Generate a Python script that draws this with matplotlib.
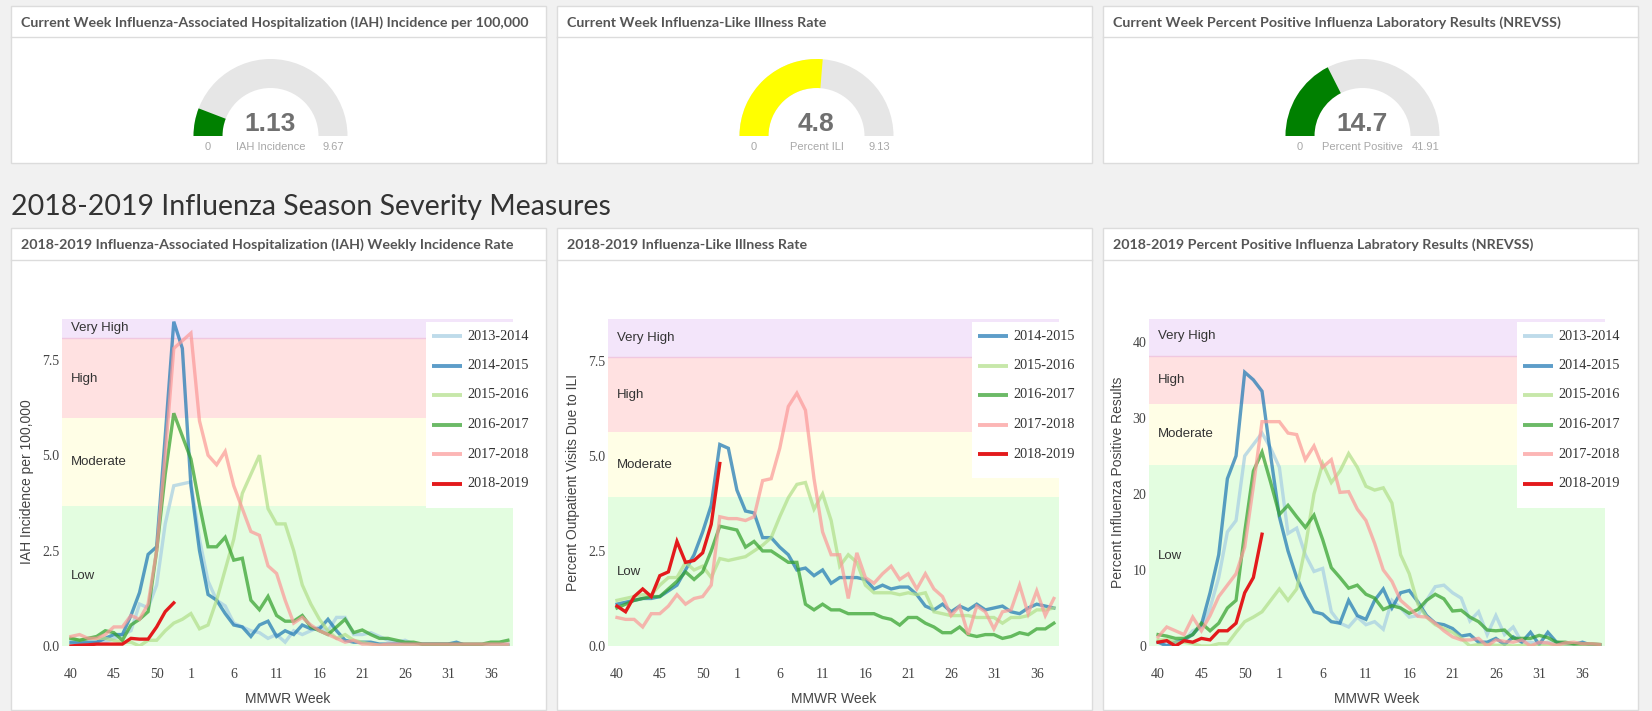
import numpy as np
import matplotlib
matplotlib.use("Agg")
import matplotlib.pyplot as plt
from matplotlib.patches import Rectangle, Wedge

W, H = 1652, 711

# weeks 40..53, 1..38
weeks = list(range(40, 54)) + list(range(1, 39))
tick_weeks = [40, 45, 50, 1, 6, 11, 16, 21, 26, 31, 36]
seasons = ["2013-2014", "2014-2015", "2015-2016", "2016-2017", "2017-2018", "2018-2019"]
colors = ["#a6cee3", "#1f78b4", "#b2df8a", "#33a02c", "#fb9a99", "#e31a1c"]

# current week gauges
gauge_titles = ["Current Week Influenza-Associated Hospitalization (IAH) Incidence per 100,000",
                "Current Week Influenza-Like Illness Rate",
                "Current Week Percent Positive Influenza Laboratory Results (NREVSS)"]
gauge_values = [1.13, 4.8, 14.7]
gauge_max = [9.67, 9.13, 41.91]
gauge_labels = ["IAH Incidence", "Percent ILI", "Percent Positive"]
gauge_colors = ["#008000", "#ffff00", "#008000"]

# severity bands: low, moderate, high, very high (upper limits)
band_names = ["Low", "Moderate", "High", "Very High"]
band_colors = ["#e3fde0", "#fffee6", "#ffe1e1", "#f3e5fa"]
iah_bands = [3.67, 5.98, 8.07, 8.57]
ili_bands = [3.92, 5.62, 7.6, 8.6]
pos_bands = [23.8, 31.8, 38.1, 43.0]
iah_band_label_y = [1.84, 4.83, 7.0, 8.33]
ili_band_label_y = [1.95, 4.77, 6.6, 8.1]
pos_band_label_y = [11.9, 27.9, 35.0, 40.7]

iah = {
    "2013-2014": [0.05, 0.05, 0.05, 0.1, 0.1, 0.2, 0.3, 0.4, 1.1, 1.0, 1.6, 3.2, 4.2, 4.25, 4.3, 2.8, 1.7, 1.2, 1.05, 0.6,
                  0.5, 0.4, 0.35, 0.2, 0.3, 0.1, 0.4, 0.3, 0.4, 0.5, 0.4, 0.75, 0.75, 0.3, 0.3, 0.35, 0.25, 0.15, 0.1, 0.15,
                  0.05, 0.05, 0.05, 0.05, 0.05, 0.05, 0.05, 0.05, 0.05, 0.05, 0.05, 0.05],
    "2014-2015": [0.1, 0.1, 0.1, 0.1, 0.2, 0.3, 0.3, 0.8, 1.4, 2.4, 2.6, 5.5, 8.5, 7.8, 4.2, 2.5, 1.35, 1.2, 0.85, 0.55,
                  0.5, 0.25, 0.55, 0.65, 0.25, 0.4, 0.3, 0.55, 0.45, 0.45, 0.7, 0.4, 0.15, 0.1, 0.1, 0.1, 0.05, 0.05, 0.05, 0.05,
                  0.05, 0.05, 0.05, 0.05, 0.05, 0.1, 0.02, 0.02, 0.02, 0.02, 0.02, 0.02],
    "2015-2016": [0.2, 0.15, 0.2, 0.2, 0.2, 0.15, 0.1, 0.1, 0.0, 0.15, 0.15, 0.4, 0.6, 0.7, 0.85, 0.45, 0.55, 1.2, 2.0, 2.8,
                  4.0, 4.5, 5.0, 3.6, 3.2, 3.2, 2.5, 1.6, 1.1, 0.7, 0.4, 0.2, 0.3, 0.15, 0.1, 0.05, 0.02, 0.02, 0.02, 0.02,
                  0.02, 0.02, 0.02, 0.02, 0.02, 0.02, 0.02, 0.02, 0.02, 0.02, 0.02, 0.02],
    "2016-2017": [0.2, 0.15, 0.2, 0.25, 0.4, 0.35, 0.15, 0.55, 0.7, 0.9, 2.5, 4.5, 6.1, 5.5, 4.9, 3.7, 2.6, 2.6, 2.85, 2.25,
                  2.3, 1.2, 0.95, 1.3, 0.8, 0.65, 0.65, 0.8, 0.5, 0.4, 0.3, 0.5, 0.7, 0.35, 0.42, 0.3, 0.2, 0.2, 0.15, 0.1,
                  0.1, 0.05, 0.05, 0.05, 0.05, 0.05, 0.05, 0.05, 0.05, 0.1, 0.1, 0.15],
    "2017-2018": [0.25, 0.3, 0.2, 0.2, 0.3, 0.5, 0.5, 0.8, 0.7, 1.1, 2.5, 5.0, 7.8, 8.0, 8.2, 5.9, 5.0, 4.75, 5.1, 4.2,
                  3.6, 3.0, 2.9, 2.1, 1.9, 1.2, 0.6, 0.75, 0.55, 0.4, 0.3, 0.2, 0.1, 0.15, 0.05, 0.05, 0.02, 0.05, 0.05, 0.05,
                  0.05, 0.05, 0.05, 0.05, 0.05, 0.05, 0.05, 0.05, 0.05, 0.05, 0.05, 0.05],
    "2018-2019": [0.0, 0.02, 0.03, 0.05, 0.05, 0.05, 0.05, 0.2, 0.18, 0.18, 0.5, 0.9, 1.13],
}

ili = {
    "2014-2015": [1.1, 1.15, 1.2, 1.25, 1.25, 1.3, 1.45, 1.6, 2.0, 2.4, 3.0, 3.7, 5.3, 5.2, 4.1, 3.55, 3.5, 2.85, 2.85, 2.6,
                  2.4, 2.0, 2.05, 1.85, 2.0, 1.65, 1.8, 1.8, 1.8, 1.75, 1.5, 1.6, 1.5, 1.55, 1.55, 1.35, 1.05, 0.95, 1.1, 0.9,
                  1.05, 0.95, 1.1, 0.95, 1.0, 1.05, 0.9, 0.85, 1.0, 1.1, 1.05, 1.0],
    "2015-2016": [1.2, 1.25, 1.3, 1.35, 1.35, 1.6, 1.8, 1.8, 2.2, 2.0, 2.1, 1.8, 2.3, 2.25, 2.3, 2.35, 2.5, 2.65, 2.85, 3.4,
                  3.9, 4.25, 4.3, 3.6, 4.0, 3.3, 2.1, 2.4, 2.2, 1.6, 1.4, 1.4, 1.4, 1.35, 1.4, 1.35, 1.4, 0.9, 0.85, 0.8,
                  0.8, 0.8, 0.75, 0.75, 0.75, 0.6, 0.75, 0.75, 0.8, 0.95, 0.95, 1.0],
    "2016-2017": [1.0, 1.1, 1.2, 1.25, 1.3, 1.3, 1.5, 1.7, 1.95, 1.75, 1.95, 2.5, 3.15, 3.1, 3.05, 2.6, 2.75, 2.5, 2.5, 2.35,
                  2.2, 2.2, 1.1, 0.95, 1.1, 0.95, 0.95, 0.85, 0.85, 0.85, 0.85, 0.75, 0.7, 0.55, 0.75, 0.75, 0.6, 0.5, 0.35, 0.35,
                  0.5, 0.3, 0.25, 0.3, 0.3, 0.2, 0.25, 0.35, 0.3, 0.45, 0.45, 0.6],
    "2017-2018": [0.75, 0.7, 0.7, 0.5, 0.85, 0.85, 1.05, 1.35, 1.1, 1.25, 1.3, 1.6, 3.4, 3.35, 3.35, 3.3, 3.4, 4.35, 4.4, 5.2,
                  6.3, 6.65, 6.2, 4.4, 3.0, 2.4, 2.4, 1.25, 2.45, 1.8, 1.65, 1.9, 2.1, 1.75, 1.9, 1.5, 1.9, 1.5, 1.3, 0.8,
                  1.05, 0.3, 1.05, 0.9, 0.45, 0.9, 0.95, 1.6, 0.85, 1.45, 0.8, 1.25],
    "2018-2019": [1.05, 0.9, 1.3, 1.5, 1.3, 1.85, 1.95, 2.75, 2.2, 2.25, 2.45, 3.2, 4.8],
}

pos = {
    "2013-2014": [0.5, 0.3, 0.5, 0.7, 2.0, 2.5, 5, 9, 15, 16.5, 25, 26.5, 28, 26, 23.5, 14.8, 15.5, 12, 9.8, 10.2,
                  4.5, 3, 2.5, 3.8, 2.8, 3.2, 2.2, 6, 5, 3.8, 4, 6, 7.8, 8, 7, 6.3, 3.3, 4.5, 1.5, 4,
                  1.5, 2.5, 0.5, 0.5, 0.3, 0.5, 0.2, 0.3, 0.2, 0.2, 0.1, 0.1],
    "2014-2015": [0.5, 0, 0.5, 0.8, 1.5, 2.8, 7, 12, 22, 25, 36, 35, 33.5, 25, 17, 12.5, 9, 6.5, 4.5, 4.2,
                  3.2, 3, 6, 4, 3.5, 6, 7.5, 5, 7, 7.3, 5.8, 4, 3, 2.8, 2.3, 1.3, 1.5, 0.5, 0.5, 1,
                  0.2, 1.2, 0.5, 1.8, 0.2, 1.8, 0.5, 0.3, 0.2, 0.5, 0.1, 0.1],
    "2015-2016": [0.8, 0.8, 0.5, 0.5, 0.3, 0, 0, 0.3, 0.3, 1.8, 3.2, 3.8, 4.5, 6, 7.5, 6, 7.5, 13, 20, 24,
                  21.5, 23, 25.3, 23.5, 21, 20.5, 20.8, 18.8, 12, 9.5, 5.5, 3.8, 2.8, 2.3, 1.8, 1, 0, 0.2, 0.2, 0.1,
                  0.1, 0, 0.1, 0.1, 0, 0.1, 0.1, 0.1, 0.1, 0.1, 0.1, 0.1],
    "2016-2017": [1.5, 1.3, 1, 1, 1.5, 3, 2, 3, 5, 6, 15, 23, 25.5, 21.5, 17.3, 18.5, 17, 15.6, 17.2, 14,
                  10.3, 9, 7.6, 8, 6.8, 6.3, 4.8, 5.3, 5, 4.3, 4.8, 6, 6.8, 6.2, 4.6, 4.7, 3.8, 3.2, 2.1, 2,
                  2.1, 1, 1, 1, 1.4, 1.1, 0.5, 0.5, 0.3, 0.3, 0.3, 0.2],
    "2017-2018": [1.2, 2.5, 2, 1.5, 3.8, 2, 4, 6.5, 8, 9.5, 13, 21, 29.5, 29.5, 29.5, 28, 27.8, 24.5, 26.3, 23.5,
                  24.5, 20.2, 20.3, 18, 16.5, 13.5, 10, 8.5, 6, 5, 3.9, 3.8, 3, 2, 1.2, 0.8, 0.8, 1, 0, 0.8,
                  0.6, 0.5, 0.8, 0, 0.5, 0.4, 0.1, 0.4, 0.5, 0.3, 0.3, 0.2],
    "2018-2019": [0.5, 0.7, 0, 0.7, 0.5, 1, 0.8, 2, 2, 3, 7, 9, 14.7],
}

chart_titles = ["2018-2019 Influenza-Associated Hospitalization (IAH) Weekly Incidence Rate",
                "2018-2019 Influenza-Like Illness Rate",
                "2018-2019 Percent Positive Influenza Labratory Results (NREVSS)"]
ylabels = ["IAH Incidence per 100,000", "Percent Outpatient Visits Due to ILI", "Percent Influenza Positive Results"]
yticks_list = [[0, 2.5, 5, 7.5], [0, 2.5, 5, 7.5], [0, 10, 20, 30, 40]]
ytick_fmt = ["{:.1f}", "{:.1f}", "{:.0f}"]

SANS = ["Lato", "DejaVu Sans"]
plt.rcParams["font.family"] = SANS

fig = plt.figure(figsize=(W / 100, H / 100), dpi=100)
fig.patch.set_facecolor("#f1f1f1")


def ax_px(x0, y0, x1, y1):
    return fig.add_axes([x0 / W, 1 - y1 / H, (x1 - x0) / W, (y1 - y0) / H])


bg = ax_px(0, 0, W, H)
bg.set_xlim(0, W)
bg.set_ylim(H, 0)
bg.axis("off")

panels_x = [(11, 546), (557, 1092), (1103, 1638)]

# top gauge panels
for i, (x0, x1) in enumerate(panels_x):
    bg.add_patch(Rectangle((x0, 6), x1 - x0, 157, facecolor="white", edgecolor="#dcdcdc", lw=1))
    bg.plot([x0, x1], [37, 37], color="#dcdcdc", lw=1)
    bg.text(x0 + 10, 23, gauge_titles[i], fontsize=10.3, fontweight="bold", color="#555555", va="center")
    cx, cy = (x0 + x1) / 2 - 8, 136
    frac = gauge_values[i] / gauge_max[i]
    bg.add_patch(Wedge((cx, cy), 77, 180, 360, width=29, facecolor="#e6e6e6", edgecolor="none"))
    bg.add_patch(Wedge((cx, cy), 77, 180, 180 + 180 * frac, width=29, facecolor=gauge_colors[i], edgecolor="none"))
    bg.text(cx, 124, "{:g}".format(gauge_values[i]), fontsize=19, fontweight="bold", color="#707070",
            ha="center", va="center", family=["Liberation Sans"])
    bg.text(cx - 63, 147, "0", fontsize=8, color="#a8a8a8", ha="center", va="center", family=["Liberation Sans"])
    bg.text(cx, 147, gauge_labels[i], fontsize=8, color="#a8a8a8", ha="center", va="center", family=["Liberation Sans"])
    bg.text(cx + 63, 147, "{:g}".format(gauge_max[i]), fontsize=8, color="#a8a8a8", ha="center", va="center",
            family=["Liberation Sans"])

bg.text(11, 207, "2018-2019 Influenza Season Severity Measures", fontsize=20.5, color="#333333", va="center")

# bottom chart panels
for i, (x0, x1) in enumerate(panels_x):
    bg.add_patch(Rectangle((x0, 228), x1 - x0, 482, facecolor="white", edgecolor="#dcdcdc", lw=1))
    bg.plot([x0, x1], [260, 260], color="#dcdcdc", lw=1)
    bg.text(x0 + 10, 245, chart_titles[i], fontsize=10.3, fontweight="bold", color="#555555", va="center")

datasets = [iah, ili, pos]
bands_all = [iah_bands, ili_bands, pos_bands]
band_label_ys = [iah_band_label_y, ili_band_label_y, pos_band_label_y]
plot_x = [(62, 513), (608, 1059), (1149, 1605)]
ylab_x = [27, 573, 1118]
legend_x = [(426, 541), (972, 1087), (1517, 1632)]

ov = None
axes = []
for i in range(3):
    x0, x1 = plot_x[i]
    ax = ax_px(x0, 319, x1, 646)
    axes.append(ax)
    bands = bands_all[i]
    lo = 0
    for name, top, col, ly in zip(band_names, bands, band_colors, band_label_ys[i]):
        ax.axhspan(lo, top, color=col, lw=0, zorder=0)
        ax.text(0, ly, name, fontsize=9.5, color="#333333", va="center", family=["Liberation Sans"], zorder=1)
        lo = top
    ax.axhline(bands[2], color="#f0c8e0", lw=1, zorder=0.5)
    data = datasets[i]
    for s, c in zip(seasons, colors):
        if s not in data:
            continue
        vals = data[s]
        x = np.arange(len(vals))
        ax.plot(x, vals, color=c, lw=2.4, alpha=1.0 if s == "2018-2019" else 0.72, zorder=2,
                solid_joinstyle="miter")
    ax.set_xlim(-1.05, 51.6)
    ax.set_ylim(0, bands[3])
    tick_idx = [weeks.index(w) for w in tick_weeks]
    ax.set_xticks(tick_idx)
    ax.set_xticklabels([str(w) for w in tick_weeks], family=["Liberation Serif"], fontsize=10, color="#444444")
    ax.set_yticks(yticks_list[i])
    ax.set_yticklabels([ytick_fmt[i].format(v) for v in yticks_list[i]], family=["Liberation Serif"],
                       fontsize=10, color="#444444")
    ax.tick_params(length=0)
    ax.tick_params(axis="x", pad=16)
    ax.tick_params(axis="y", pad=2)
    for sp in ax.spines.values():
        sp.set_visible(False)
    ax.set_xlabel("MMWR Week", fontsize=10, color="#444444", family=["Liberation Sans"], labelpad=8)
    bg.text(ylab_x[i], 482, ylabels[i], rotation=90, fontsize=10, color="#444444",
            family=["Liberation Sans"], ha="center", va="center")

# legends drawn on top
ov = ax_px(0, 0, W, H)
ov.set_xlim(0, W)
ov.set_ylim(H, 0)
ov.axis("off")
ov.patch.set_alpha(0)
for i in range(3):
    lx0, lx1 = legend_x[i]
    names = [s for s in seasons if s in datasets[i]]
    ov.add_patch(Rectangle((lx0, 322), lx1 - lx0, 30 * len(names) + 6, facecolor="white", edgecolor="none"))
    for k, s in enumerate(names):
        yy = 336 + 29.5 * k
        c = colors[seasons.index(s)]
        ov.plot([lx0 + 6, lx0 + 36], [yy, yy], color=c, lw=2.8, alpha=1.0 if s == "2018-2019" else 0.72,
                solid_capstyle="butt")
        ov.text(lx0 + 41, yy, s, fontsize=10.3, color="#333333", family=["Liberation Serif"], va="center")

fig.savefig("out.png", dpi=100, facecolor=fig.get_facecolor())
